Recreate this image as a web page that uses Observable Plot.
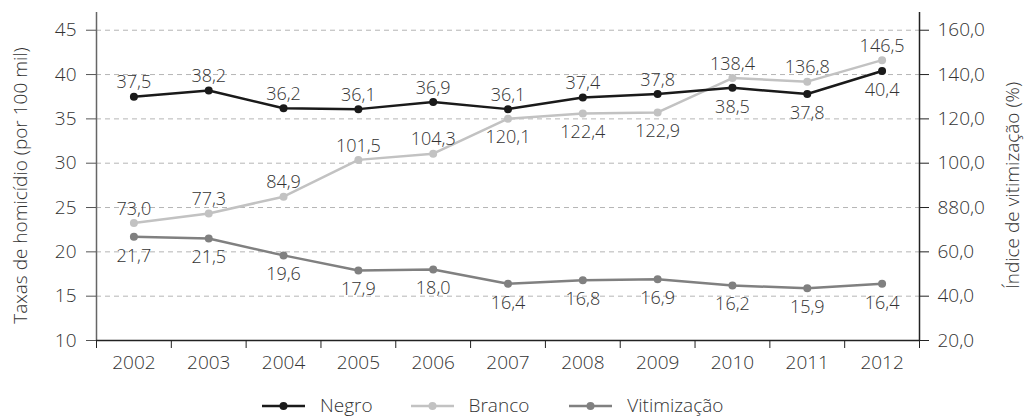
<!DOCTYPE html>
<html><head><meta charset="utf-8">
<script src="https://cdn.jsdelivr.net/npm/d3@7"></script>
<script src="https://cdn.jsdelivr.net/npm/@observablehq/plot@0.6"></script>
<style>
html,body{margin:0;background:#fff;font-family:"Open Sans",sans-serif;color:#333;overflow:hidden}
#chart svg{display:block}
#legend{display:flex;align-items:center;box-sizing:border-box;height:31px;padding-top:8px;padding-left:262px;font-size:19px;line-height:23px;color:#333;font-weight:300}
.item{display:flex;align-items:center}
.item svg{margin-right:15px}
</style></head><body><div id="chart"></div><div id="legend"></div>
<script>
const years = [2002, 2003, 2004, 2005, 2006, 2007, 2008, 2009, 2010, 2011, 2012];
// Negro: taxa de homicídio (eixo esquerdo)
const negro = [37.5, 38.2, 36.2, 36.1, 36.9, 36.1, 37.4, 37.8, 38.5, 37.8, 40.4];
// "Branco" (legend name): values read on the right axis
const branco = [73.0, 77.3, 84.9, 101.5, 104.3, 120.1, 122.4, 122.9, 138.4, 136.8, 146.5];
// "Vitimização" (legend name): values on the left axis
const vitimizacao = [21.7, 21.5, 19.6, 17.9, 18.0, 16.4, 16.8, 16.9, 16.2, 15.9, 16.4];
const negroLabelsBelow = [2010, 2011, 2012];
const brancoLabelsBelow = [2007, 2008, 2009];
const leftTicks = [10, 15, 20, 25, 30, 35, 40, 45];
const rightTicks = [20, 40, 60, 80, 100, 120, 140, 160];
const rightTickLabels = ["20,0", "40,0", "60,0", "880,0", "100,0", "120,0", "140,0", "160,0"];
const leftTitle = "Taxas de homicídio (por 100 mil)";
const rightTitle = "Índice de vitimização (%)";
const seriesNames = ["Negro", "Branco", "Vitimização"];
const seriesColors = ["#1a1a1a", "#c2c2c2", "#808080"];
const legendGaps = [38, 40, 0];

const L0 = leftTicks[0], L1 = leftTicks[leftTicks.length - 1];
const R0 = rightTicks[0], R1 = rightTicks[rightTicks.length - 1];
const toLeft = r => L0 + (r - R0) * (L1 - L0) / (R1 - R0);
const fmt = v => v.toFixed(1).replace(".", ",");

const rows = [];
years.forEach((year, i) => {
  rows.push({series: "Negro", year, y: negro[i], label: fmt(negro[i]), below: negroLabelsBelow.includes(year)});
  rows.push({series: "Branco", year, y: toLeft(branco[i]), label: fmt(branco[i]), below: brancoLabelsBelow.includes(year)});
  rows.push({series: "Vitimização", year, y: vitimizacao[i], label: fmt(vitimizacao[i]), below: true});
});
const rightPos = rightTicks.map(toLeft);
const boundaries = [...years.map(y => y - 0.5), years[years.length - 1] + 0.5];
const xDomain = [boundaries[0], boundaries[boundaries.length - 1]];
const color = {domain: seriesNames, range: seriesColors};

const marks = [
  Plot.ruleY(leftTicks.slice(1), {stroke: "#b5b5b5", strokeDasharray: "5,4", strokeWidth: 1}),
  Plot.ruleX([xDomain[0]], {stroke: "#666", strokeWidth: 1.5}),
  Plot.ruleX([xDomain[1]], {stroke: "#222", strokeWidth: 1.5}),
  Plot.ruleY([L0], {stroke: "#222", strokeWidth: 1.5}),
  Plot.axisY(leftTicks, {anchor: "left", tickSize: 10, tickPadding: 10, stroke: "#555", fill: "#333", fontSize: 19, label: null, tickFormat: d => String(d)}),
  Plot.axisY(rightPos, {anchor: "right", tickSize: 9, tickPadding: 9, stroke: "#222", fill: "#333", fontSize: 19, label: null, tickFormat: d => rightTickLabels[rightPos.indexOf(d)]}),
  Plot.axisX(boundaries, {anchor: "bottom", tickSize: 8, stroke: "#222", label: null, tickFormat: () => ""}),
  Plot.axisX(years, {anchor: "bottom", tickSize: 0, tickPadding: 15, fill: "#333", fontSize: 19, label: null, tickFormat: d => String(d)}),
  Plot.text([leftTitle], {frameAnchor: "left", textAnchor: "middle", dx: -76, dy: 9, rotate: -90, fill: "#333", fontSize: 19}),
  Plot.text([rightTitle], {frameAnchor: "right", textAnchor: "middle", dx: 93, dy: 9, rotate: -90, fill: "#333", fontSize: 19})
];
for (const name of ["Vitimização", "Branco", "Negro"]) {
  const d = rows.filter(r => r.series === name);
  marks.push(
    Plot.line(d, {x: "year", y: "y", stroke: "series", strokeWidth: 2.5}),
    Plot.dot(d, {x: "year", y: "y", fill: "series", r: 4}),
    Plot.text(d.filter(r => !r.below), {x: "year", y: "y", text: "label", dy: -14, fill: "#333", fontSize: 18}),
    Plot.text(d.filter(r => r.below), {x: "year", y: "y", text: "label", dy: 19, fill: "#333", fontSize: 18})
  );
}

const chart = Plot.plot({
  width: 1028, height: 386,
  marginTop: 12, marginBottom: 46, marginLeft: 96, marginRight: 109,
  x: {domain: xDomain},
  y: {domain: [L0, 47]},
  color,
  style: {fontFamily: '"Open Sans", sans-serif', fontSize: "19px", fontWeight: 300, color: "#333", background: "#fff"},
  marks
});
document.getElementById("chart").append(chart);

const legend = document.getElementById("legend");
seriesNames.forEach((name, i) => {
  const item = document.createElement("div");
  item.className = "item";
  item.style.marginRight = legendGaps[i] + "px";
  item.innerHTML = `<svg width="43" height="12"><line x1="0" y1="6" x2="43" y2="6" stroke="${seriesColors[i]}" stroke-width="2.5"/><circle cx="21.5" cy="6" r="4" fill="${seriesColors[i]}"/></svg><span>${name}</span>`;
  legend.append(item);
});
</script></body></html>
